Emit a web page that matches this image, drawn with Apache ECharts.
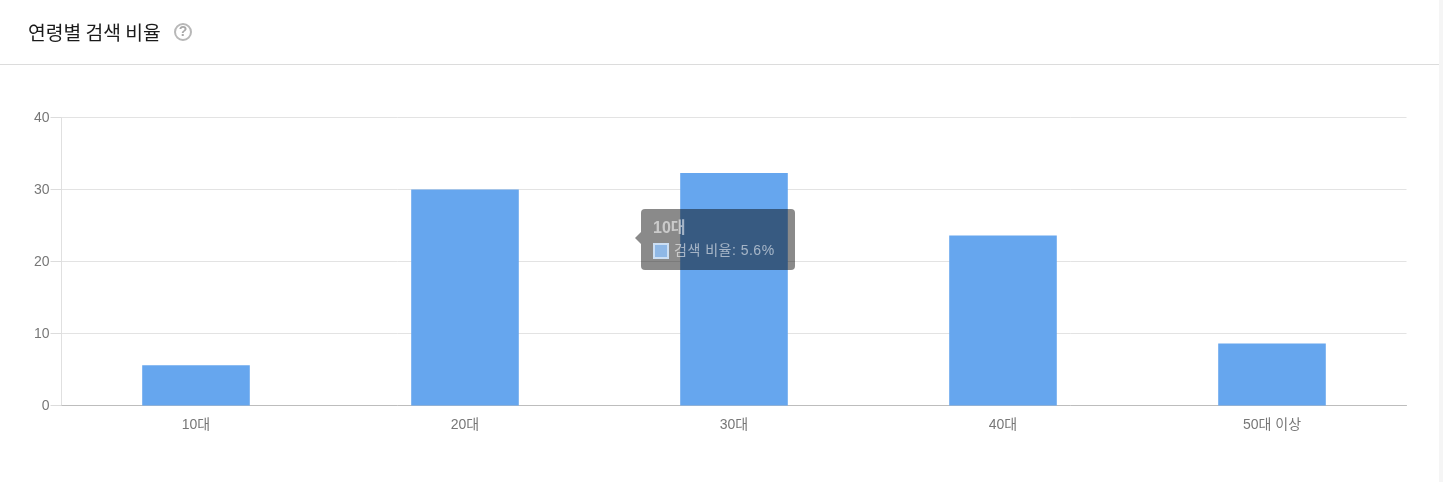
<!DOCTYPE html>
<html>
<head>
<meta charset="utf-8">
<style>html,body{margin:0;padding:0;background:#fff;overflow:hidden}#c{width:1443px;height:482px}</style>
<script src="https://cdn.jsdelivr.net/npm/echarts@6/dist/echarts.min.js"></script>
</head>
<body>
<div id="c"></div>
<script>
var chartTitle = '연령별 검색 비율';
var seriesName = '검색 비율';
var categories = ['10대', '20대', '30대', '40대', '50대 이상'];
var values = [5.6, 30.0, 32.3, 23.6, 8.6];
var yTicks = [0, 10, 20, 30, 40];

var kr = '"Noto Sans CJK KR","Noto Sans",sans-serif';
var latin = '"Liberation Sans","Noto Sans CJK KR",sans-serif';
var chart = echarts.init(document.getElementById('c'), null, {renderer: 'canvas'});
chart.setOption({
  animation: false,
  backgroundColor: '#ffffff',
  title: {
    text: chartTitle, left: 23, top: 18,
    textStyle: {fontFamily: kr, fontSize: 19.3, fontWeight: 'normal', color: '#1a1a1a'}
  },
  grid: {left: 61.5, right: 36.5, top: 117.5, bottom: 76.5},
  xAxis: {
    type: 'category', data: categories,
    axisTick: {show: false},
    axisLine: {lineStyle: {color: '#bdbdbd', width: 1}},
    axisLabel: {fontFamily: latin, fontSize: 14, color: '#777', margin: 13}
  },
  yAxis: {
    type: 'value', min: yTicks[0], max: yTicks[yTicks.length - 1], interval: 10,
    axisLine: {show: true, lineStyle: {color: '#e0e0e0'}},
    axisTick: {show: true, length: 11, lineStyle: {color: '#dcdcdc'}},
    axisLabel: {
      margin: 12,
      formatter: '{a|{value}}',
      rich: {a: {fontFamily: latin, fontSize: 14, color: '#777', padding: [2, 0, 0, 0]}}
    },
    splitLine: {lineStyle: {color: '#e3e3e3', width: 1}}
  },
  tooltip: {
    trigger: 'item', alwaysShowContent: true, showContent: true,
    backgroundColor: 'transparent', borderWidth: 0, padding: 0, transitionDuration: 0,
    extraCssText: 'box-shadow:none;',
    position: function () { return [634, 209]; },
    formatter: function (p) {
      return '<div style="position:relative;margin-left:7px;width:154px;height:61px;background:rgba(0,0,0,.46);border-radius:4px;font-family:' + latin.replace(/"/g, "'") + ';">' +
        '<div style="position:absolute;left:-6px;top:23px;width:0;height:0;border-top:6px solid transparent;border-bottom:6px solid transparent;border-right:6px solid rgba(0,0,0,.46);"></div>' +
        '<div style="position:absolute;left:12px;top:10px;font-size:16px;line-height:18px;font-weight:bold;color:rgba(255,255,255,.55);">' + p.name + '</div>' +
        '<div style="position:absolute;left:12px;top:34px;width:12px;height:12px;border:2px solid rgba(255,255,255,.55);background:#8fb8e6;"></div>' +
        '<div style="position:absolute;left:33px;top:33px;font-size:14px;letter-spacing:.5px;line-height:17px;white-space:nowrap;color:rgba(255,255,255,.55);">' + p.seriesName + ': ' + p.value + '%</div>' +
        '</div>';
    }
  },
  graphic: [
    {type: 'rect', silent: true, shape: {x: 0, y: 64, width: 1439, height: 1}, style: {fill: '#dcdcdc'}},
    {type: 'rect', silent: true, shape: {x: 1439, y: 0, width: 4, height: 482}, style: {fill: '#f5f5f5'}},
    {type: 'circle', silent: true, shape: {cx: 183, cy: 32, r: 8}, style: {fill: 'none', stroke: '#b8b8b8', lineWidth: 2}},
    {type: 'text', silent: true, style: {x: 183, y: 32, text: '?', align: 'center', verticalAlign: 'middle', font: 'bold 14px ' + latin, fill: '#a8a8a8'}}
  ],
  series: [{
    type: 'bar', name: seriesName, data: values, barWidth: '40%',
    itemStyle: {color: '#66a6ee', borderWidth: 0},
    emphasis: {disabled: true}
  }]
});
chart.dispatchAction({type: 'showTip', seriesIndex: 0, dataIndex: 0});
</script>
</body>
</html>
